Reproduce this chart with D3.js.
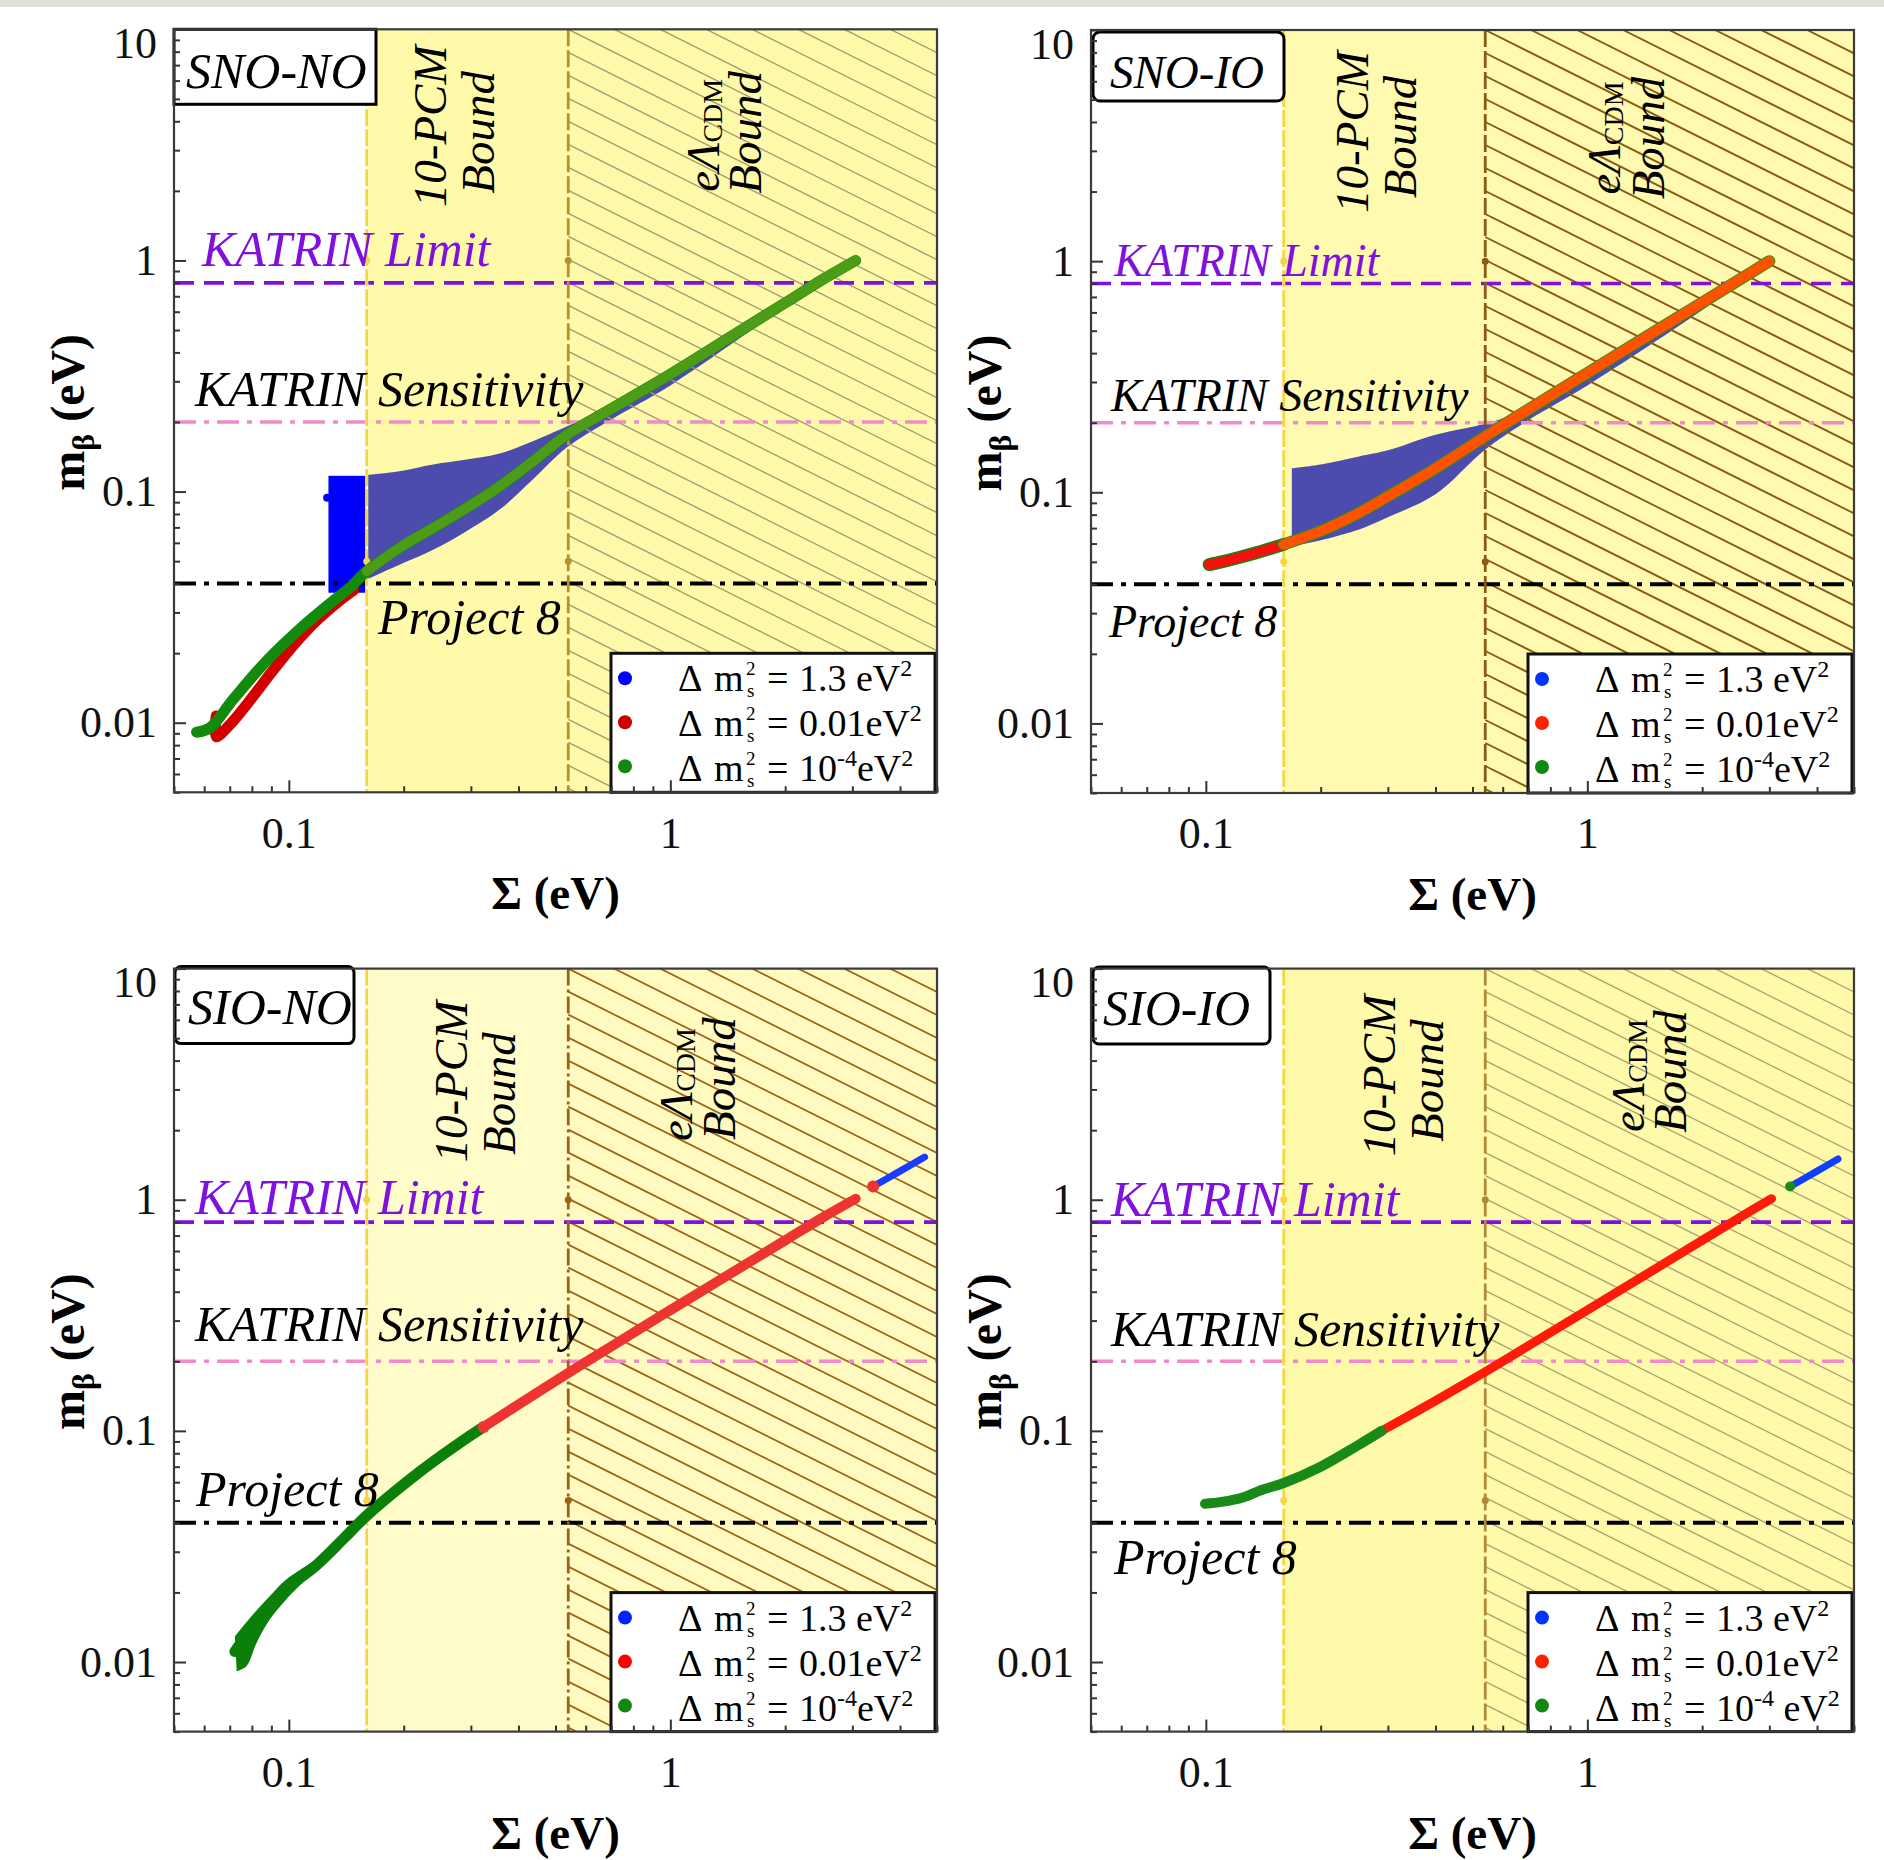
<!DOCTYPE html>
<html>
<head>
<meta charset="utf-8">
<script src="https://cdnjs.cloudflare.com/ajax/libs/d3/7.8.5/d3.min.js"></script>
<style>
body {margin:0; background:#fff;}
svg {display:block; font-family:'Liberation Serif', serif;}
</style>
</head>
<body>
<div class="charts"></div>
<script>
/////////////
//Data
/////////////

//axes (eV)
var sigmaDomain = [0.05, 5]
var mbetaDomain = [0.005, 10]
var xMajor = [0.1, 1]
var yMajor = [0.01, 0.1, 1, 10]
var xMinor = [0.05, 0.06, 0.07, 0.08, 0.09, 0.2, 0.3, 0.4, 0.5, 0.6, 0.7, 0.8, 0.9, 2, 3, 4, 5]
var yMinor = [0.005, 0.006, 0.007, 0.008, 0.009, 0.02, 0.03, 0.04, 0.05, 0.06, 0.07, 0.08, 0.09,
              0.2, 0.3, 0.4, 0.5, 0.6, 0.7, 0.8, 0.9, 2, 3, 4, 5, 6, 7, 8, 9]

//cosmology bounds on Sigma: 10-PCM, eLCDM
var boundSigma = [0.16, 0.54]
var boundMarks = [0.05, 1]

//tritium experiments on m_beta
var expNames = ['KATRIN Limit', 'KATRIN Sensitivity', 'Project 8']
var expValues = [0.8, 0.2, 0.04]

//legend: delta m_s^2
var legendValues = ['1.3', '0.01', '10']
var legendExps = ['', '', '-4']

//SNO-NO  [Sigma, m_beta]
var snoNoBlock = [[0.127, 0.0365], [0.16, 0.117]]
var snoNoBlueDots = [[0.126, 0.094]]
var snoNoFanTop = [[0.16, 0.118], [0.195, 0.1225], [0.239, 0.131], [0.292, 0.1375], [0.357, 0.146],
                   [0.436, 0.165], [0.535, 0.191], [0.6, 0.208], [0.7, 0.236], [1.0, 0.33], [1.8, 0.595]]
var snoNoFanBottom = [[0.16, 0.0417], [0.195, 0.0483], [0.239, 0.056], [0.292, 0.0674], [0.357, 0.0836],
                      [0.436, 0.1127], [0.535, 0.155], [0.7, 0.205], [1.0, 0.288], [1.8, 0.56]]
var snoNoGreen = [[0.0573, 0.0091], [0.0621, 0.0095], [0.0714, 0.0126], [0.0874, 0.0185], [0.107, 0.0255],
                  [0.1306, 0.0336], [0.1445, 0.0384], [0.16, 0.0452], [0.195, 0.0571], [0.239, 0.0696],
                  [0.292, 0.085], [0.357, 0.1054], [0.436, 0.135], [0.535, 0.176], [0.7, 0.228],
                  [1.0, 0.322], [1.5, 0.488], [2.0, 0.655], [2.5, 0.825], [3.06, 1.0]]
var snoNoRed = [[0.0645, 0.0107], [0.0645, 0.0087], [0.07, 0.0098], [0.08, 0.0128], [0.09, 0.0165],
                [0.1, 0.0205], [0.11, 0.0245], [0.12, 0.0283], [0.135, 0.0335], [0.148, 0.0375]]

//SNO-IO
var snoIoFanTop = [[0.168, 0.127], [0.2, 0.132], [0.252, 0.143], [0.3, 0.152], [0.4, 0.1775],
                   [0.54, 0.198], [0.63, 0.215], [0.7, 0.236], [1.0, 0.335], [2.0, 0.67], [3.0, 1.0]]
var snoIoFanBottom = [[0.168, 0.0584], [0.2, 0.062], [0.252, 0.069], [0.3, 0.078], [0.4, 0.098],
                      [0.54, 0.153], [0.7, 0.205], [1.0, 0.29], [1.8, 0.545], [2.5, 0.79], [3.0, 0.96]]
var snoIoLine = [[0.102, 0.0487], [0.11, 0.05], [0.12, 0.0518], [0.137, 0.055], [0.16, 0.0595],
                 [0.2, 0.068], [0.252, 0.0815], [0.3, 0.096], [0.4, 0.127], [0.54, 0.1745],
                 [0.7, 0.228], [1.0, 0.328], [1.5, 0.495], [2.0, 0.662], [2.5, 0.83], [3.0, 1.0]]

//SIO-NO
var sioNoBlobTop = [[0.0722, 0.0129], [0.0806, 0.0161], [0.0892, 0.0193], [0.0986, 0.0228], [0.118, 0.0278]]
var sioNoBlobBottom = [[0.073, 0.0091], [0.0775, 0.0096], [0.0823, 0.0121], [0.0892, 0.0153],
                       [0.0986, 0.0187], [0.1135, 0.0236]]
var sioNoGreen = [[0.0722, 0.0111], [0.08, 0.014], [0.09, 0.0172], [0.0986, 0.0207], [0.118, 0.0262],
                  [0.14, 0.0345], [0.16, 0.043], [0.221, 0.0668], [0.27, 0.085], [0.324, 0.104]]
var sioNoRed = [[0.324, 0.104], [0.4, 0.13], [0.54, 0.178], [0.7, 0.232], [1.0, 0.333], [1.5, 0.5],
                [2.0, 0.667], [2.5, 0.835], [3.06, 1.01]]
var sioNoBlue = [[3.4, 1.14], [4.0, 1.33], [4.64, 1.53]]
var sioNoDots = [[0.324, 0.104], [3.4, 1.14]]

//SIO-IO
var sioIoGreen = [[0.0995, 0.0484], [0.11, 0.0493], [0.125, 0.0515], [0.14, 0.0555], [0.16, 0.0595],
                  [0.2, 0.07], [0.25, 0.0865], [0.289, 0.1]]
var sioIoRed = [[0.289, 0.1], [0.4, 0.135], [0.54, 0.18], [0.7, 0.233], [1.0, 0.333], [1.5, 0.5],
                [2.0, 0.667], [2.5, 0.835], [3.04, 1.01]]
var sioIoBlue = [[3.4, 1.14], [4.0, 1.33], [4.54, 1.5]]
var sioIoDots = [[0.14, 0.0555], [0.289, 0.1], [3.4, 1.14]]

////////////////
//Panel setup
///////////////

W = 763
H = 763

var panels = [
  {name: 'SNO-NO', left: 174, top: 29.3,
   box: {x: 0, y: 0, w: 202, h: 75, rx: 0}, nameAt: [12, 59, 50],
   fill: '#fffaaa', fill2: '#fffaaa', hatch: '#a29d70', hatchW: 1.4,
   pcmLine: '#f5d540', lcdmLine: '#b8902c', lcdmDash: '17,4',
   expText: [[28, 237], [21, 377], [204, 605]], expSize: 50,
   pcmText: [[256, 97], [304, 103]], lcdmText: [[529, 106], [571, 103]],
   legendColors: ['#0000ff', '#cc0000', '#118811'], unitGap: false,
   fans: [{top: snoNoFanTop, bottom: snoNoFanBottom, color: '#4b4cad'}],
   blocks: [{corners: snoNoBlock, color: '#0000ff'}],
   lines: [{data: snoNoRed, color: '#d40000', w: 11},
           {data: snoNoGreen, color: '#128a0c', w: 11},
           {data: snoNoGreen.filter(d => d[0] >= 0.16), color: '#4c9c18', w: 10}],
   dots: [{data: snoNoBlueDots, color: '#0000ff', r: 4}]},
  {name: 'SNO-IO', left: 1091, top: 30,
   box: {x: 2, y: 2, w: 191, h: 69, rx: 7}, nameAt: [19, 58, 47],
   fill: '#fffab0', fill2: '#fffab0', hatch: '#8b5a14', hatchW: 1.8,
   pcmLine: '#f5d540', lcdmLine: '#8b5a14', lcdmDash: '17,4',
   expText: [[23, 246], [20, 381], [18, 607]], expSize: 46,
   pcmText: [[261, 102], [309, 107]], lcdmText: [[513, 108], [557, 108]],
   legendColors: ['#0033ff', '#ff2200', '#118811'], unitGap: false,
   fans: [{top: snoIoFanTop, bottom: snoIoFanBottom, color: '#4b4cad'}],
   blocks: [],
   lines: [{data: snoIoLine.filter(d => d[0] <= 0.16), color: '#118811', w: 13},
           {data: snoIoLine.filter(d => d[0] <= 0.16), color: '#f51010', w: 10},
           {data: snoIoLine.filter(d => d[0] >= 0.16), color: '#3a8c12', w: 12},
           {data: snoIoLine.filter(d => d[0] >= 0.16), color: '#ff5200', w: 10}],
   dots: []},
  {name: 'SIO-NO', left: 174, top: 968.6,
   box: {x: 1, y: -2, w: 179, h: 77, rx: 6}, nameAt: [14, 55, 50],
   fill: '#fffcca', fill2: '#fffbc0', hatch: '#a0661a', hatchW: 1.8,
   pcmLine: '#f5d540', lcdmLine: '#9a6414', lcdmDash: '17,4,3,4',
   expText: [[21, 245], [21, 372], [22, 537]], expSize: 50,
   pcmText: [[277, 113], [325, 125]], lcdmText: [[502, 116], [545, 110]],
   legendColors: ['#0022ff', '#ff0000', '#118811'], unitGap: false,
   fans: [{top: sioNoBlobTop, bottom: sioNoBlobBottom, color: '#0a800a'}],
   blocks: [],
   lines: [{data: sioNoGreen, color: '#0a800a', w: 11},
           {data: sioNoRed, color: '#ee3430', w: 10},
           {data: sioNoBlue, color: '#1a3cff', w: 7}],
   dots: [{data: sioNoDots, color: '#ee3430', r: 6}]},
  {name: 'SIO-IO', left: 1091, top: 968.6,
   box: {x: 2, y: -1.6, w: 177, h: 77, rx: 6}, nameAt: [12, 56, 50],
   fill: '#fffaaa', fill2: '#fffaaa', hatch: '#aaa272', hatchW: 1.4,
   pcmLine: '#f5d540', lcdmLine: '#b08a3a', lcdmDash: '17,4',
   expText: [[20, 247], [20, 377], [23, 605]], expSize: 50,
   pcmText: [[288, 107], [336, 112]], lcdmText: [[537, 107], [579, 103]],
   legendColors: ['#0033ff', '#ff2200', '#118811'], unitGap: true,
   fans: [],
   blocks: [],
   lines: [{data: sioIoGreen, color: '#178a17', w: 10},
           {data: sioIoRed, color: '#ff1a0a', w: 9},
           {data: sioIoBlue, color: '#1040ff', w: 7}],
   dots: [{data: sioIoDots, color: '#1b8a1b', r: 5}]}
]

var expColors = ['#8010dd', '#f08ac8', '#000']
var expDash = ['20,10', '22,8,5,8', '22,8,5,8']
var expWidth = [3.6, 3.6, 4]

var svg = d3.select('div.charts')
  .append('svg')
  .attr('width', 1884)
  .attr('height', 1860)

svg.append('rect').attr('width', 1884).attr('height', 7).attr('fill', '#dde2d7')

////////////////////
//Draw each panel
////////////////////

panels.forEach(function(p, i) {
  var x = d3.scaleLog().domain(sigmaDomain).range([0, W])
  var y = d3.scaleLog().domain(mbetaDomain).range([H, 0])
  var line = d3.line().x(d => x(d[0])).y(d => y(d[1])).curve(d3.curveCatmullRom.alpha(0.5))

  var g = svg.append('g').attr('transform', `translate(${p.left},${p.top})`)
  g.append('clipPath').attr('id', 'clip' + i)
    .append('rect').attr('width', W).attr('height', H)
  var plot = g.append('g').attr('clip-path', `url(#clip${i})`)

  //bound regions
  var xa = x(boundSigma[0]), xb = x(boundSigma[1])
  plot.append('rect').attr('x', xa).attr('width', xb - xa).attr('height', H).attr('fill', p.fill)
  plot.append('rect').attr('x', xb).attr('width', W - xb).attr('height', H).attr('fill', p.fill2)

  //fans and blocks
  p.fans.forEach(function(f) {
    plot.append('path')
      .attr('d', line(f.top) + 'L' + line(f.bottom.slice().reverse()).slice(1) + 'Z')
      .attr('fill', f.color)
  })
  p.blocks.forEach(function(b) {
    plot.append('rect')
      .attr('x', x(b.corners[0][0])).attr('y', y(b.corners[1][1]))
      .attr('width', x(b.corners[1][0]) - x(b.corners[0][0]))
      .attr('height', y(b.corners[0][1]) - y(b.corners[1][1]))
      .attr('fill', b.color)
  })

  //hatching of eLCDM region
  var hatch = plot.append('g').attr('stroke', p.hatch).attr('stroke-width', p.hatchW)
  d3.range(-20, 36).forEach(function(k) {
    var y0 = k * 23
    hatch.append('line')
      .attr('x1', xb).attr('y1', y0)
      .attr('x2', W).attr('y2', y0 + 0.5 * (W - xb))
  })

  //experiments
  plot.selectAll('line.exp')
    .data(expValues)
    .enter()
    .append('line')
    .attr('class', 'exp')
    .attr('x1', 0).attr('x2', W)
    .attr('y1', d => y(d)).attr('y2', d => y(d))
    .attr('stroke', (d, j) => expColors[j])
    .attr('stroke-width', (d, j) => expWidth[j])
    .attr('stroke-dasharray', (d, j) => expDash[j])

  //bound lines
  plot.append('line').attr('x1', xa).attr('x2', xa).attr('y1', 0).attr('y2', H)
    .attr('stroke', '#fff').attr('stroke-width', 3)
  plot.append('line').attr('x1', xa).attr('x2', xa).attr('y1', 0).attr('y2', H)
    .attr('stroke', p.pcmLine).attr('stroke-width', 2.8).attr('stroke-dasharray', '17,3')
  plot.append('line').attr('x1', xb).attr('x2', xb).attr('y1', 0).attr('y2', H)
    .attr('stroke', p.lcdmLine).attr('stroke-width', 2.8).attr('stroke-dasharray', p.lcdmDash)
  boundMarks.forEach(function(m) {
    plot.append('circle').attr('cx', xa).attr('cy', y(m)).attr('r', 3.5).attr('fill', p.pcmLine)
    plot.append('circle').attr('cx', xb).attr('cy', y(m)).attr('r', 3.5).attr('fill', p.lcdmLine)
  })

  //data lines
  p.lines.forEach(function(l) {
    plot.append('path')
      .attr('d', line(l.data))
      .attr('fill', 'none')
      .attr('stroke', l.color)
      .attr('stroke-width', l.w)
      .attr('stroke-linecap', 'round')
      .attr('stroke-linejoin', 'round')
  })
  p.dots.forEach(function(s) {
    plot.selectAll(null)
      .data(s.data)
      .enter()
      .append('circle')
      .attr('cx', d => x(d[0])).attr('cy', d => y(d[1]))
      .attr('r', s.r).attr('fill', s.color)
  })

  //experiment labels
  expNames.forEach(function(t, j) {
    g.append('text')
      .attr('x', p.expText[j][0]).attr('y', p.expText[j][1])
      .attr('font-size', p.expSize).attr('font-style', 'italic')
      .attr('fill', j == 0 ? expColors[0] : '#000')
      .text(t)
  })

  //bound labels (rotated)
  var pcm = ['10-PCM', 'Bound']
  pcm.forEach(function(t, j) {
    g.append('text')
      .attr('transform', `translate(${p.pcmText[j][0]},${p.pcmText[j][1]}) rotate(-90)`)
      .attr('text-anchor', 'middle').attr('dominant-baseline', 'central')
      .attr('font-size', 47).attr('font-style', 'italic')
      .text(t)
  })
  var lc = g.append('text')
    .attr('transform', `translate(${p.lcdmText[0][0]},${p.lcdmText[0][1]}) rotate(-90)`)
    .attr('text-anchor', 'middle').attr('dominant-baseline', 'central')
    .attr('font-size', 47).attr('font-style', 'italic')
  lc.append('tspan').text('eΛ')
  lc.append('tspan').attr('font-size', 28).attr('font-style', 'normal').attr('dy', 9).text('CDM')
  g.append('text')
    .attr('transform', `translate(${p.lcdmText[1][0]},${p.lcdmText[1][1]}) rotate(-90)`)
    .attr('text-anchor', 'middle').attr('dominant-baseline', 'central')
    .attr('font-size', 47).attr('font-style', 'italic')
    .text('Bound')

  //scenario label
  g.append('rect')
    .attr('x', p.box.x).attr('y', p.box.y).attr('width', p.box.w).attr('height', p.box.h)
    .attr('rx', p.box.rx)
    .attr('fill', '#fff').attr('stroke', '#000').attr('stroke-width', 3)
  g.append('text')
    .attr('x', p.nameAt[0]).attr('y', p.nameAt[1])
    .attr('font-size', p.nameAt[2]).attr('font-style', 'italic')
    .text(p.name)

  //legend
  var lg = g.append('g').attr('transform', 'translate(437,624)')
  lg.append('rect').attr('width', 324).attr('height', 139)
    .attr('fill', '#fff').attr('stroke', '#111').attr('stroke-width', 3)
  legendValues.forEach(function(v, j) {
    var by = 38 + 45 * j
    lg.append('circle').attr('cx', 14).attr('cy', 25 + 44 * j).attr('r', 7)
      .attr('fill', p.legendColors[j])
    //m with stacked super/subscripts as separate texts
    lg.append('text').attr('x', 67).attr('y', by).attr('font-size', 38).text('Δ')
    lg.append('text').attr('x', 103).attr('y', by).attr('font-size', 38).text('m')
    lg.append('text').attr('x', 135).attr('y', by - 16).attr('font-size', 19).text('2')
    lg.append('text').attr('x', 136).attr('y', by + 6).attr('font-size', 19).text('s')
    var t = lg.append('text').attr('x', 156).attr('y', by).attr('font-size', 38)
    t.append('tspan').text('=')
    t.append('tspan').attr('x', 188).text(v + (j == 0 ? ' ' : ''))
    var unit = 'eV'
    if (legendExps[j]) {
      t.append('tspan').attr('dy', -15).attr('font-size', 24).text(legendExps[j])
      t.append('tspan').attr('dy', 15).text((p.unitGap ? ' ' : '') + unit)
    } else {
      t.append('tspan').text(unit)
    }
    t.append('tspan').attr('dy', -15).attr('font-size', 24).text('2')
  })

  //axes
  var yAxis = g.append('g')
    .call(d3.axisLeft(y).tickValues(yMajor).tickSize(-12).tickPadding(17).tickFormat(d => d))
  var yMin = g.append('g')
    .call(d3.axisLeft(y).tickValues(yMinor).tickSize(-6).tickFormat(''))
  var xAxis = g.append('g').attr('transform', `translate(0,${H})`)
    .call(d3.axisBottom(x).tickValues(xMajor).tickSize(-12).tickPadding(24).tickFormat(d => d))
  var xMin = g.append('g').attr('transform', `translate(0,${H})`)
    .call(d3.axisBottom(x).tickValues(xMinor).tickSize(-6).tickFormat(''))
  ;[yAxis, yMin, xAxis, xMin].forEach(function(a) {
    a.select('.domain').remove()
    a.selectAll('line').attr('stroke', '#333').attr('stroke-width', 2)
    a.selectAll('text').attr('font-size', 44).attr('font-family', "'Liberation Serif', serif").attr('fill', '#111')
  })
  yAxis.selectAll('text').filter(d => d == 10).attr('y', 14)

  g.append('rect').attr('width', W).attr('height', H)
    .attr('fill', 'none').attr('stroke', '#3a3a3a').attr('stroke-width', 2.2)

  //axis titles
  g.append('text')
    .attr('x', W / 2).attr('y', 880)
    .attr('text-anchor', 'middle').attr('font-size', 47).attr('font-weight', 'bold')
    .text('Σ (eV)')
  var yt = g.append('text')
    .attr('transform', 'translate(-90,383) rotate(-90)')
    .attr('text-anchor', 'middle').attr('font-size', 48).attr('font-weight', 'bold')
  yt.append('tspan').text('m')
  yt.append('tspan').attr('font-size', 32).attr('dy', 10).text('β')
  yt.append('tspan').attr('dy', -10).text(' (eV)')
})
</script>
</body>
</html>
